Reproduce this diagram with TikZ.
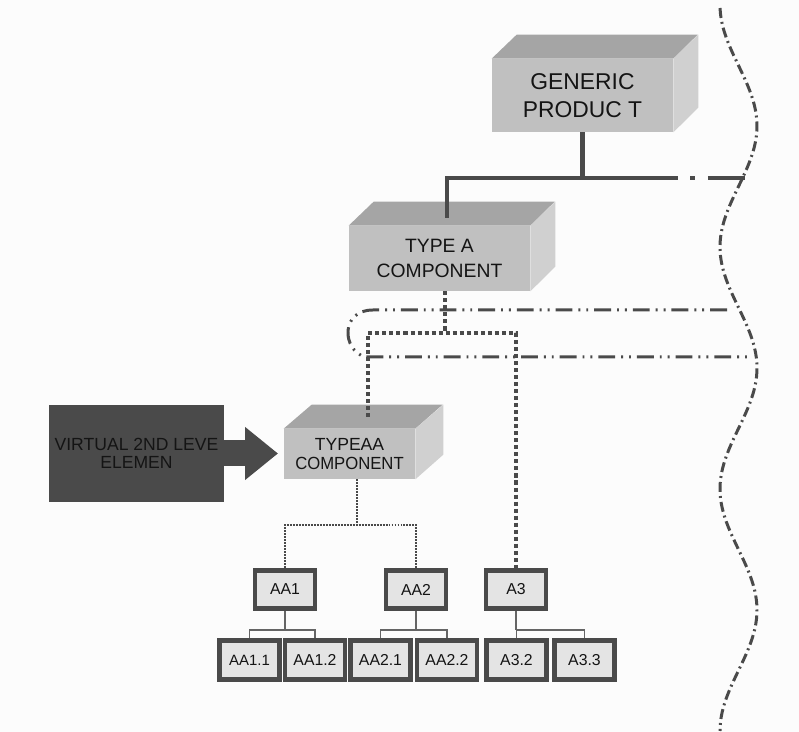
\documentclass[tikz,border=0pt]{standalone}
\usepackage{fontspec}
\setmainfont{Liberation Sans}
\usetikzlibrary{arrows.meta}
\definecolor{ink}{HTML}{4A4A4A}
\definecolor{textc}{HTML}{141414}
\definecolor{facefront}{HTML}{C0C0C0}
\definecolor{facetop}{HTML}{A5A5A5}
\definecolor{faceside}{HTML}{D0D0D0}
\definecolor{leaffill}{HTML}{E4E4E4}
\definecolor{paper}{HTML}{FCFCFC}

\begin{document}
\begin{tikzpicture}[x=0.02cm, y=-0.02cm,
    front/.style={fill=facefront, align=center, inner sep=0pt, text=textc},
    leaf/.style={fill=leaffill, draw=ink, line width=2.8pt, inner sep=0pt, text=textc,
      minimum width=1.2cm, minimum height=0.77cm, font=\fontsize{9pt}{10pt}\selectfont},
    bus/.style={draw=ink, line width=2.5pt},
    dotbus/.style={draw=ink, line width=2.8pt, dash pattern=on 2.3pt off 1.7pt},
    thinbus/.style={draw=ink, line width=1.6pt, dash pattern=on 1.1pt off 0.6pt},
    link/.style={draw=ink!85, line width=1.1pt},
    border/.style={draw=ink, line width=1.7pt, dash pattern=on 5.7pt off 2.3pt on 1.1pt off 2.3pt},
    zone/.style={draw=ink, line width=1.7pt,
      dash pattern=on 9.6pt off 3.4pt on 1.1pt off 3.4pt on 1.1pt off 3.4pt}]
    \useasboundingbox (0,0) rectangle (799,732);
    \fill[paper] (0,0) rectangle (799,732);

    % Grenze rechts
    \draw[border] plot[domain=8:731, samples=150, variable=\t]
      ({738.5-18.5*cos(1.4876*(\t-5))}, \t);

    % Bereich um die zweite Ebene
    \draw[zone] (727,310) -- (373,310) .. controls (340,310) and (342,350) .. (365,357) -- (752,357);

    % Generic product
    \node[front, minimum width=3.62cm, minimum height=1.46cm,
      font=\fontsize{13pt}{16pt}\selectfont] (GP) at (582.5,95.5) {GENERIC\\PRODUC T};
    \fill[facetop] (GP.north west) -- ++(25,-24) -- ++(181,0) -- (GP.north east) -- cycle;
    \fill[faceside] (GP.north east) -- ++(25,-24) -- ++(0,73) -- (GP.south east) -- cycle;

    % Type A component
    \node[front, minimum width=3.62cm, minimum height=1.3cm,
      font=\fontsize{11pt}{13.8pt}\selectfont] (TA) at (439.5,258.5) {TYPE A\\COMPONENT};
    \fill[facetop] (TA.north west) -- ++(25,-24) -- ++(181,0) -- (TA.north east) -- cycle;
    \fill[faceside] (TA.north east) -- ++(25,-24) -- ++(0,65) -- (TA.south east) -- cycle;

    % Type AA component
    \node[front, minimum width=2.62cm, minimum height=1cm,
      font=\fontsize{10pt}{10.5pt}\selectfont] (TAA) at (349.5,454)
      {TYPEAA\\\scalebox{0.95}[1]{COMPONENT}};
    \fill[facetop] (TAA.north west) -- ++(28,-24) -- ++(131,0) -- (TAA.north east) -- cycle;
    \fill[faceside] (TAA.north east) -- ++(28,-24) -- ++(0,50) -- (TAA.south east) -- cycle;

    % virtuelles Element
    \node[fill=ink, minimum width=3.5cm, minimum height=1.94cm, inner sep=0pt, align=center,
      text=textc, font=\fontsize{10pt}{10.5pt}\selectfont] (VE) at (136.5,453.5)
      {VIRTUAL 2ND LEVE\\ELEMEN};
    \coordinate (tipAA) at (278,453.5);
    \draw[ink, line width=0.52cm, -{Triangle[length=0.66cm, width=1.02cm]}] (VE.east) -- (tipAA);

    % Elemente
    \node[leaf] (AA1) at (285,589.5) {AA1};
    \node[leaf] (AA2) at (416,589.5) {AA2};
    \node[leaf] (A3) at (516,589.5) {A3};
    \node[leaf, font=\fontsize{8.5pt}{9pt}\selectfont] (AA11) at (249.5,660) {AA1.1};
    \node[leaf] (AA12) at (315,660) {AA1.2};
    \node[leaf] (AA21) at (380.5,660) {AA2.1};
    \node[leaf] (AA22) at (447,660) {AA2.2};
    \node[leaf] (A32) at (516.5,660) {A3.2};
    \node[leaf] (A33) at (584.5,660) {A3.3};

    % Verbindungen
    \coordinate (busL) at (445,178);
    \coordinate (busR) at (678,178);
    \coordinate (tapA) at (447,178);
    \coordinate (splitA) at (445,333);
    \coordinate (aaTop) at (368,417);
    \coordinate (splitAA) at (357,525);
    \draw[bus] (busL) -- (busR);
    \draw[bus, dash pattern=on 2.8pt off 7.4pt on 21pt off 20pt] (690,178) -- (745,178);
    \draw[bus] (GP.south) -- (GP.south |- busL);
    \draw[bus] (tapA) -- ++(0,40);
    \draw[dotbus] (splitA |- TA.south) -- (splitA);
    \draw[dotbus] (aaTop) |- (splitA) -| (A3.north);
    \draw[thinbus] (splitAA |- TAA.south) -- (splitAA);
    \draw[thinbus] (AA1.north) |- (splitAA) -| (AA2.north);

    \draw[link] (AA1.south) -- ++(0,19) coordinate (j1);
    \draw[link] (AA11.north) |- (j1) -| (AA12.north);
    \draw[link] (AA2.south) -- ++(0,19) coordinate (j2);
    \draw[link] (AA21.north) |- (j2) -| (AA22.north);
    \draw[link] (A3.south) -- ++(0,19) coordinate (j3);
    \draw[link] (A32.north) |- (j3) -| (A33.north);
  \end{tikzpicture}
\end{document}
